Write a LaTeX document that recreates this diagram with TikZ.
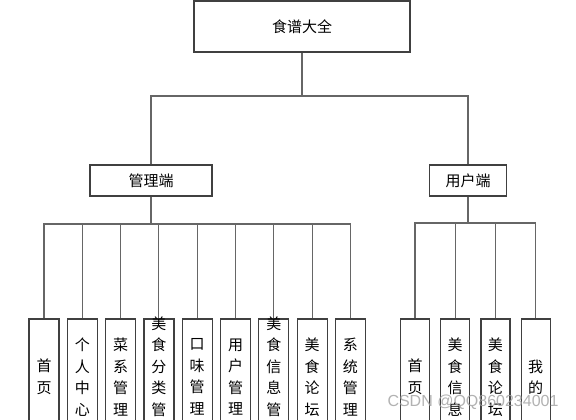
\documentclass[tikz,border=0pt]{standalone}
\usepackage{fontspec}
\newfontfamily\cjk{Noto Sans CJK SC}
\newfontfamily\wmfont{Liberation Sans}
\usetikzlibrary{positioning}
\tikzset{
  box/.style={draw=black!75, line width=1.2pt, fill=white, align=center, inner sep=0pt, font=\cjk\fontsize{15}{18}\selectfont},
  leaf/.style={draw=black!75, line width=1.2pt, fill=white, minimum width=30pt, minimum height=116pt, inner sep=0pt},
  vtext/.style={align=center, inner sep=0pt, font=\cjk\fontsize{15}{21.5}\selectfont},
  link/.style={draw=black!60, line width=1.1pt}
}

\begin{document}
\begin{tikzpicture}[x=1pt, y=1pt]
  \useasboundingbox[fill=white] (0,0) rectangle (576,-420);

  % top and second level
  \node[box, minimum width=216pt, minimum height=51pt] (root) at (302,-26.5) {食谱大全};
  \node[box, minimum width=122pt, minimum height=31pt] (admin) at (151,-180.5) {管理端};
  \node[box, minimum width=77pt, minimum height=31pt] (user) at (468,-180.5) {用户端};

  \coordinate (rbus) at (302,-96);
  \coordinate (abus) at (151,-224);
  \coordinate (ubus) at (468,-223);

  % admin side
  \node[leaf, label={[vtext]center:首\\页}] (m1) at (44,-377) {};
  \node[leaf, right=7.1pt of m1, label={[vtext]center:个\\人\\中\\心}] (m2) {};
  \node[leaf, right=7.1pt of m2, label={[vtext]center:菜\\系\\管\\理}] (m3) {};
  \node[leaf, right=7.1pt of m3, label={[vtext]center:美\\食\\分\\类\\管\\理}] (m4) {};
  \node[leaf, right=7.1pt of m4, label={[vtext]center:口\\味\\管\\理}] (m5) {};
  \node[leaf, right=7.1pt of m5, label={[vtext]center:用\\户\\管\\理}] (m6) {};
  \node[leaf, right=7.1pt of m6, label={[vtext]center:美\\食\\信\\息\\管\\理}] (m7) {};
  \node[leaf, right=7.1pt of m7, label={[vtext]center:美\\食\\论\\坛}] (m8) {};
  \node[leaf, right=7.1pt of m8, label={[vtext]center:系\\统\\管\\理}] (m9) {};

  % user side
  \node[leaf, minimum width=29pt, label={[vtext]center:首\\页}] (u1) at (415,-377) {};
  \node[leaf, minimum width=29pt, right=10pt of u1, label={[vtext]center:美\\食\\信\\息}] (u2) {};
  \node[leaf, minimum width=29pt, right=10pt of u2, label={[vtext]center:美\\食\\论\\坛}] (u3) {};
  \node[leaf, minimum width=29pt, right=10pt of u3, label={[vtext]center:我\\的}] (u4) {};

  % connectors
  \draw[link] (root) -- (rbus);
  \draw[link] (admin.north) |- (rbus) -| (user.north);

  \draw[link] (admin) -- (abus);
  \draw[link] (m1.north) |- (abus) -| (m9.north);
  \draw[link] (m2.north) -- (m2.north |- abus) (m3.north) -- (m3.north |- abus)
    (m4.north) -- (m4.north |- abus) (m5.north) -- (m5.north |- abus)
    (m6.north) -- (m6.north |- abus) (m7.north) -- (m7.north |- abus)
    (m8.north) -- (m8.north |- abus);

  \draw[link] (user) -- (ubus);
  \draw[link] (u1.north) |- (ubus) -| (u4.north);
  \draw[link] (u2.north) -- (u2.north |- ubus) (u3.north) -- (u3.north |- ubus);

  \node[text=gray!75, opacity=0.8, font=\wmfont\fontsize{16}{16}\selectfont] (wm) at (473,-402) {CSDN @QQ860234001};
\end{tikzpicture}
\end{document}
